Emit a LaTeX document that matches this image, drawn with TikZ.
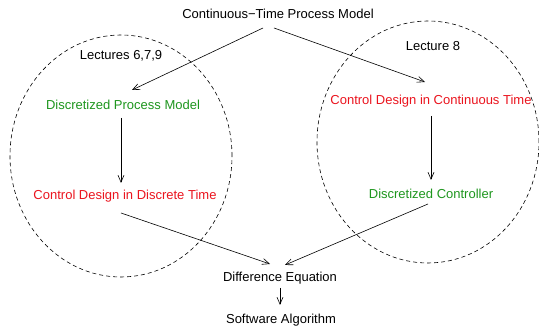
\documentclass[tikz,border=0pt]{standalone}
\usepackage{fontspec}
\setmainfont{Liberation Sans}
\usetikzlibrary{arrows.meta}
\definecolor{stepgreen}{RGB}{30,150,30}
\definecolor{stepred}{RGB}{235,20,30}
\begin{document}
\begin{tikzpicture}[x=1pt,y=1pt,
  lbl/.style={inner sep=0pt,font=\fontsize{13}{15}\selectfont},
  arr/.style={line width=0.6pt,-{Straight Barb[length=7pt,width=6pt]}},
  zone/.style={draw,dash pattern=on 4pt off 3pt,line width=0.6pt}]
\useasboundingbox (0,0) rectangle (539,326);
\fill[white] (0,0) rectangle (539,326);

% dashed regions grouping the two design routes
\draw[zone] (121,170) ellipse [x radius=111, y radius=121];
\draw[zone] (428,184) ellipse [x radius=111, y radius=121];

% labels
\node[lbl] (top)  at (278,312) {Continuous−Time Process Model};
\node[lbl] (l679) at (121,270) {Lectures 6,7,9};
\node[lbl] (l8)   at (433,280) {Lecture 8};
\node[lbl,text=stepgreen] (dpm)  at (123,221) {Discretized Process Model};
\node[lbl,text=stepred]   (cddt) at (125,130) {Control Design in Discrete Time};
\node[lbl,text=stepred]   (cdct) at (431,225) {Control Design in Continuous Time};
\node[lbl,text=stepgreen] (dc)   at (431,132) {Discretized Controller};
\node[lbl] (de) at (280,48) {Difference Equation};
\node[lbl] (sa) at (281,6)  {Software Algorithm};

% flow arrows
\draw[arr] ([shift={(-15,-14)}]top.center) -- ([shift={(9,15)}]dpm.center);
\draw[arr] ([shift={(-4,-14)}]top.center) -- ([shift={(-6,19)}]cdct.center);
\draw[arr] ([shift={(-2,-13)}]dpm.center) -- ([shift={(-4,13)}]cddt.center);
\draw[arr] ([shift={(0,-15)}]cdct.center) -- ([shift={(0,14)}]dc.center);
\draw[arr] ([shift={(-4,-17)}]cddt.center) -- ([shift={(-10,14)}]de.center);
\draw[arr] ([shift={(-3,-10)}]dc.center) -- ([shift={(5,13)}]de.center);
\draw[arr] ([shift={(0,-10)}]de.center) -- ([shift={(-1,15)}]sa.center);
\end{tikzpicture}
\end{document}
